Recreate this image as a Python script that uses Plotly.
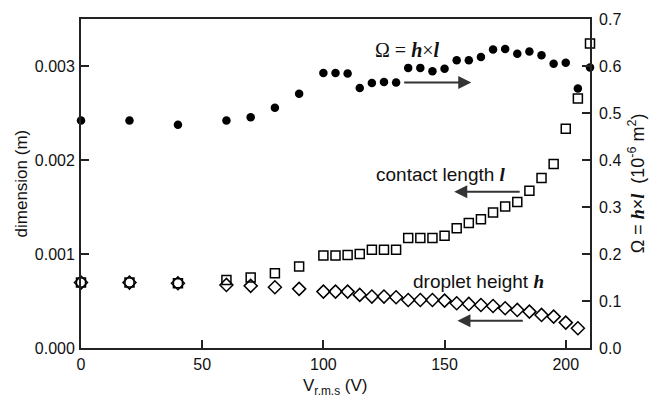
import plotly.graph_objects as go

# ---- data ----
v_rms = [0, 20, 40, 60, 70, 80, 90, 100, 105, 110, 115, 120, 125, 130, 135, 140,
         145, 150, 155, 160, 165, 170, 175, 180, 185, 190, 195, 200, 205, 210]

omega = [0.484, 0.484, 0.475, 0.484, 0.491, 0.511, 0.541, 0.585, 0.585, 0.584,
         0.553, 0.564, 0.566, 0.565, 0.596, 0.596, 0.589, 0.594, 0.612, 0.612,
         0.619, 0.635, 0.636, 0.626, 0.631, 0.623, 0.605, 0.607, 0.552, 0.597]

contact_length = [0.000696, 0.000696, 0.000689, 0.000724, 0.000749, 0.000796,
                  0.000866, 0.000984, 0.000984, 0.000990, 0.001001, 0.001044,
                  0.001044, 0.001044, 0.001169, 0.001169, 0.001169, 0.001193,
                  0.001275, 0.001329, 0.001371, 0.001441, 0.001505, 0.001552,
                  0.001673, 0.001808, 0.001957, 0.002333, 0.002653, 0.003239]

v_rms_h = v_rms[:-1]
droplet_height = [0.000696, 0.000696, 0.000689, 0.000671, 0.000661, 0.000646,
                  0.000629, 0.000600, 0.000600, 0.000600, 0.000565, 0.000547,
                  0.000547, 0.000540, 0.000511, 0.000511, 0.000511, 0.000504,
                  0.000476, 0.000469, 0.000458, 0.000447, 0.000423, 0.000405,
                  0.000387, 0.000352, 0.000334, 0.000270, 0.000210]

left_ticks = [0.000, 0.001, 0.002, 0.003]
left_ticklabels = ["0.000", "0.001", "0.002", "0.003"]
right_ticks = [0.0, 0.1, 0.2, 0.3, 0.4, 0.5, 0.6, 0.7]
x_ticks = [0, 50, 100, 150, 200]

FONT = "Liberation Sans, Arial, sans-serif"
SERIF = "Liberation Serif, Times New Roman, serif"

fig = go.Figure()

fig.add_trace(go.Scatter(
    x=v_rms, y=contact_length, mode="markers", name="contact length",
    marker=dict(symbol="square-open", size=9, color="black",
                line=dict(width=1.5, color="black")),
    yaxis="y", cliponaxis=False))
fig.add_trace(go.Scatter(
    x=v_rms_h, y=droplet_height, mode="markers", name="droplet height",
    marker=dict(symbol="diamond-open", size=10, color="black",
                line=dict(width=1.5, color="black")),
    yaxis="y", cliponaxis=False))
fig.add_trace(go.Scatter(
    x=v_rms, y=omega, mode="markers", name="Omega",
    marker=dict(symbol="circle", size=8.5, color="black"),
    yaxis="y2", cliponaxis=False))


def bi(ch):
    return ('<span style="font-family:Liberation Serif"><b><i>' + ch +
            '</i></b></span>')


axis_common = dict(showline=True, linecolor="#222", linewidth=1.8,
                   ticks="inside", ticklen=8, tickwidth=1.8, tickcolor="#222",
                   showgrid=False, zeroline=False, automargin=False,
                   tickfont=dict(family=FONT, size=16, color="#111"))

fig.update_layout(
    width=649, height=398,
    margin=dict(l=81, r=59, t=19, b=50),
    paper_bgcolor="white", plot_bgcolor="white",
    showlegend=False,
    font=dict(family=FONT, color="#111"),
    xaxis=dict(range=[0, 210], tickvals=x_ticks, mirror=True,
               ticklabelstandoff=1, **axis_common),
    yaxis=dict(range=[0, 0.0035], tickvals=left_ticks, ticktext=left_ticklabels,
               ticklabelstandoff=1, **axis_common),
    yaxis2=dict(range=[0, 0.7], tickvals=right_ticks, tickformat=".1f",
                overlaying="y", side="right", ticklabelstandoff=4,
                **axis_common),
)

# axis titles
fig.add_annotation(x=0.5, y=-0.118, xref="paper", yref="paper", showarrow=False,
                   text="V<sub>r.m.s</sub> (V)", xanchor="center", yanchor="middle",
                   font=dict(family=FONT, size=17, color="#111"))
fig.add_annotation(x=-0.116, y=0.5, xref="paper", yref="paper", showarrow=False,
                   text="dimension (m)", textangle=-90,
                   xanchor="center", yanchor="middle",
                   font=dict(family=FONT, size=17, color="#111"))
fig.add_annotation(x=1.092, y=0.5, xref="paper", yref="paper", showarrow=False,
                   text="Ω = " + bi("h") + "×" + bi("l") +
                        "  (10<sup>-6</sup> m<sup>2</sup>)",
                   textangle=-90, xanchor="center", yanchor="middle",
                   font=dict(family=FONT, size=18, color="#111"))

arrow = dict(showarrow=True, arrowhead=2, arrowsize=1.3, arrowwidth=2,
             arrowcolor="#333", text="")

fig.add_annotation(x=161, y=0.565, ax=132.7, ay=0.565, xref="x", yref="y2",
                   axref="x", ayref="y2", **arrow)
fig.add_annotation(x=154, y=0.001662, ax=181.6, ay=0.001662, xref="x", yref="y",
                   axref="x", ayref="y", **arrow)
fig.add_annotation(x=155.3, y=0.000291, ax=182.9, ay=0.000291, xref="x", yref="y",
                   axref="x", ayref="y", **arrow)

fig.add_annotation(x=134.8, y=0.633, xref="x", yref="y2", showarrow=False,
                   text="Ω = <b><i>h</i></b>×<b><i>l</i></b>",
                   font=dict(family=SERIF, size=20, color="#111"))
fig.add_annotation(x=148.4, y=0.001843, xref="x", yref="y", showarrow=False,
                   text="contact length " + bi("l"),
                   font=dict(family=FONT, size=19, color="#111"))
fig.add_annotation(x=164.1, y=0.000703, xref="x", yref="y", showarrow=False,
                   text="droplet height " + bi("h"),
                   font=dict(family=FONT, size=19, color="#111"))

fig.write_html("out.html",
               config={"displayModeBar": False},
               post_script="document.body.style.margin='0';"
                           "document.body.style.overflow='hidden';")
